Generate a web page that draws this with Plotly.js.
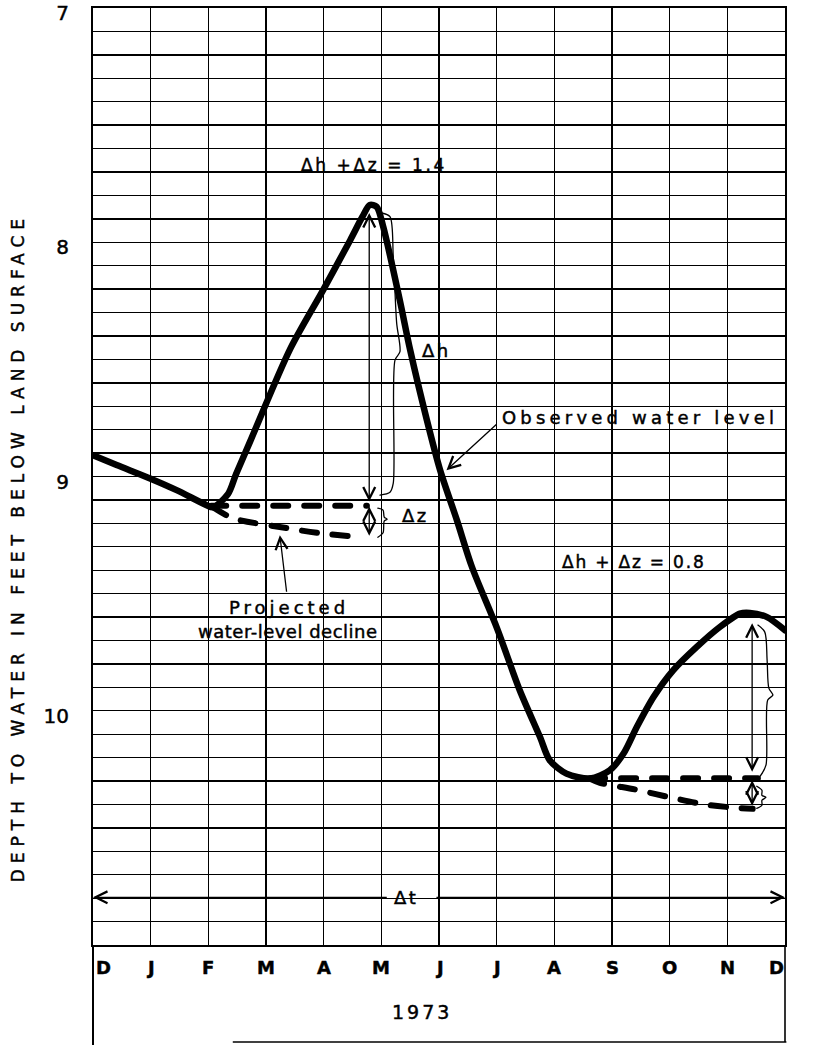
<!DOCTYPE html>
<html>
<head>
<meta charset="utf-8">
<script src="https://cdn.plot.ly/plotly-3.0.1.min.js"></script>
<style>
  html, body { margin: 0; padding: 0; background: #fff; }
  #chart { width: 827px; height: 1045px; }
  .scatterlayer .js-line { stroke-linecap: round; stroke-linejoin: round; }
  .annotation-text, .ytick text { stroke: #000; stroke-width: 0.45px; }
</style>
</head>
<body>
<div id="chart"></div>
<script>
// ---- data (months since 1 Dec 1972, depth to water in feet) ----
const monthLabels = ['D', 'J', 'F', 'M', 'A', 'M', 'J', 'J', 'A', 'S', 'O', 'N', 'D'];
const monthIndex = [0, 1, 2, 3, 4, 5, 6, 7, 8, 9, 10, 11, 12];
const yearLabel = '1973';
const depthTickVals = [7, 8, 9, 10];
const depthTickText = ['7', '8', '9', '10'];

const observedMonth = [0, 0.41, 0.99, 1.45, 1.97, 2.08, 2.34, 2.48, 2.72, 3.42, 3.99, 4.46, 4.67, 4.80, 4.92, 5.03, 5.32, 5.50, 5.79, 6.02, 6.31, 6.57, 7.01, 7.40, 7.75, 7.92, 8.21, 8.62, 8.96, 9.20, 9.43, 9.72, 10.06, 10.47, 10.87, 11.22, 11.39, 11.68, 12.0];
const observedDepth = [8.909, 8.951, 9.008, 9.058, 9.122, 9.131, 9.075, 8.990, 8.853, 8.455, 8.204, 7.991, 7.892, 7.841, 7.849, 7.931, 8.247, 8.460, 8.759, 8.973, 9.186, 9.385, 9.650, 9.912, 10.111, 10.211, 10.268, 10.289, 10.254, 10.182, 10.069, 9.941, 9.827, 9.727, 9.642, 9.585, 9.582, 9.599, 9.656];

const projSpringFlatMonth = [2.05, 4.75];
const projSpringFlatDepth = [9.125, 9.125];
const projSpringDeclineMonth = [2.08, 2.43, 3.36, 3.94, 4.66];
const projSpringDeclineDepth = [9.131, 9.178, 9.220, 9.242, 9.259];
const projFallFlatMonth = [8.62, 11.53];
const projFallFlatDepth = [10.288, 10.288];
const projFallDeclineMonth = [8.62, 8.79, 9.43, 10.02, 10.61, 11.22, 11.44];
const projFallDeclineDepth = [10.290, 10.307, 10.337, 10.370, 10.400, 10.415, 10.418];

// measurement arrows (month, depth top, depth bottom)
const dh1 = {month: 4.79, top: 7.875, bottom: 9.113};
const dz1 = {month: 4.79, top: 9.128, bottom: 9.259};
const dh2 = {month: 11.43, top: 9.626, bottom: 10.266};
const dz2 = {month: 11.43, top: 10.296, bottom: 10.411};
const dtDepth = 10.796;

// braces
const brace1Month = [5.006, 5.150, 5.207, 5.266, 5.323, 5.237, 5.207, 5.150, 4.977];
const brace1Depth = [7.875, 7.891, 8.062, 8.345, 8.467, 8.503, 9.028, 9.067, 9.079];
const brace2Month = [4.94, 5.03, 5.05, 5.10, 5.05, 5.03, 4.94];
const brace2Depth = [9.135, 9.143, 9.173, 9.182, 9.190, 9.240, 9.259];
const brace3Month = [11.53, 11.65, 11.69, 11.72, 11.79, 11.70, 11.67, 11.57];
const brace3Depth = [9.634, 9.664, 9.784, 9.903, 9.933, 9.954, 10.232, 10.279];
const brace4Month = [11.51, 11.60, 11.60, 11.67, 11.60, 11.60, 11.51];
const brace4Depth = [10.322, 10.339, 10.361, 10.369, 10.382, 10.403, 10.416];

// ---- traces ----
const FONT = 'DejaVu Sans, Verdana, sans-serif';
const traces = [];
function addLine(xs, ys, width, dash, shape) {
  traces.push({
    type: 'scatter', mode: 'lines', x: xs, y: ys,
    line: {color: '#000', width: width, dash: dash || 'solid', shape: shape || 'linear', smoothing: 0.8},
    hoverinfo: 'skip', showlegend: false
  });
}
const DASH = '15px,16px';
addLine(projSpringFlatMonth, projSpringFlatDepth, 6, DASH);
addLine(projSpringDeclineMonth, projSpringDeclineDepth, 6, DASH, 'spline');
addLine(projFallFlatMonth, projFallFlatDepth, 6, DASH);
addLine(projFallDeclineMonth, projFallDeclineDepth, 6, DASH, 'spline');
addLine(observedMonth, observedDepth, 6.5, 'solid', 'spline');
addLine(brace1Month, brace1Depth, 1.3, 'solid', 'spline');
addLine(brace2Month, brace2Depth, 1.3, 'solid', 'spline');
addLine(brace3Month, brace3Depth, 1.3, 'solid', 'spline');
addLine(brace4Month, brace4Depth, 1.3, 'solid', 'spline');

// ---- annotations ----
const annotations = [];
function label(text, x, y, size, spacing, extra) {
  const a = Object.assign({
    text: '<span style="letter-spacing:' + spacing + 'px">' + text + '</span>',
    x: x, y: y, xref: 'x', yref: 'y', showarrow: false,
    font: {family: FONT, size: size, color: '#000'},
    xanchor: 'center', yanchor: 'middle'
  }, extra || {});
  annotations.push(a);
}
function arrow(x, y, ax, ay, side) {
  annotations.push({
    text: '', x: x, y: y, ax: ax, ay: ay, xref: 'x', yref: 'y', axref: 'x', ayref: 'y',
    showarrow: true, arrowhead: 5, startarrowhead: 5, arrowside: side || 'end',
    arrowsize: 1.8, startarrowsize: 1.8, arrowwidth: 1.3, arrowcolor: '#000', standoff: 0, startstandoff: 0
  });
}

// month labels and year
monthLabels.forEach(function (m, i) {
  let shift = 0;
  if (i === 0) shift = 10;
  if (i === monthLabels.length - 1) shift = -9;
  annotations.push({
    text: m, x: monthIndex[i], y: -0.0245, xref: 'x', yref: 'paper', showarrow: false,
    xshift: shift, font: {family: FONT, size: 18, color: '#000', weight: 'bold'},
    xanchor: 'center', yanchor: 'middle'
  });
});
annotations.push({
  text: '<span style="letter-spacing:3px">' + yearLabel + '</span>', x: 0.476, y: -0.0715,
  xref: 'paper', yref: 'paper', showarrow: false,
  font: {family: FONT, size: 19, color: '#000'}, xanchor: 'center', yanchor: 'middle'
});
// y-axis title
annotations.push({
  text: '<span style="letter-spacing:6px">DEPTH TO WATER IN FEET BELOW LAND SURFACE</span>',
  x: -0.108, y: 0.4237, xref: 'paper', yref: 'paper', showarrow: false, textangle: -90,
  font: {family: FONT, size: 17, color: '#000'}, xanchor: 'center', yanchor: 'middle'
});

// chart notes
label('Δh +Δz = 1.4', 4.87, 7.670, 17, 2.6);
label('Δh', 5.95, 8.460, 18, 2.5);
label('Δz', 5.60, 9.165, 18, 2.5);
label('Observed water level', 7.06, 8.746, 18, 4.2, {xanchor: 'left'});
label('Δh + Δz = 0.8', 9.38, 9.366, 17, 1.8);
label('Δh', 12.36, 9.933, 18, 2.5);
label('Δz', 12.33, 10.352, 18, 2.5);
label('Projected', 3.40, 9.558, 18, 4.0);
label('water-level decline', 3.38, 9.660, 18, 0.5);
label('Δt', 5.43, dtDepth, 18, 2.5);

// arrows
arrow(dh1.month, dh1.top, dh1.month, dh1.bottom, 'end+start');
arrow(dz1.month, dz1.top, dz1.month, dz1.bottom, 'end+start');
arrow(dh2.month, dh2.top, dh2.month, dh2.bottom, 'end+start');
arrow(dz2.month, dz2.top, dz2.month, dz2.bottom, 'end+start');
arrow(0, dtDepth, 5.12, dtDepth, 'end');
arrow(12, dtDepth, 5.93, dtDepth, 'end');
arrow(6.13, 8.973, 7.02, 8.772, 'end');
arrow(3.24, 9.250, 3.36, 9.498, 'end');

// ---- frame below the plot (month / year box) ----
const shapes = [
  {type: 'line', xref: 'paper', yref: 'paper', x0: 0, x1: 0, y0: 0, y1: -0.1075, line: {color: '#000', width: 2}},
  {type: 'line', xref: 'paper', yref: 'paper', x0: 1, x1: 1, y0: 0, y1: -0.1035, line: {color: '#000', width: 1.6}},
  {type: 'line', xref: 'paper', yref: 'paper', x0: 0.202, x1: 1.002, y0: -0.1035, y1: -0.1035, line: {color: '#000', width: 1.4}}
];

const layout = {
  width: 827, height: 1045,
  margin: {l: 93, r: 42, t: 8, b: 100},
  paper_bgcolor: '#fff', plot_bgcolor: '#fff',
  showlegend: false, hovermode: false,
  font: {family: FONT, color: '#000'},
  xaxis: {
    range: [0, 12], tick0: 0, dtick: 1, showticklabels: false, ticks: '',
    showgrid: true, gridcolor: '#000', gridwidth: 1.3, zeroline: false,
    showline: true, linecolor: '#000', linewidth: 2, mirror: true, fixedrange: true
  },
  yaxis: {
    range: [10.9995, 7], tickmode: 'array', tickvals: depthTickVals, ticktext: depthTickText,
    ticks: '', ticklabelstandoff: 18, ticklabeloverflow: 'allow', ticklabelshift: -5,
    tickfont: {family: FONT, size: 20, color: '#000'},
    showgrid: true, gridcolor: '#000', gridwidth: 1.3, zeroline: false,
    minor: {tick0: 7, dtick: 0.1, showgrid: true, gridcolor: '#000', gridwidth: 1.3, ticks: ''},
    showline: true, linecolor: '#000', linewidth: 2, mirror: true, fixedrange: true
  },
  annotations: annotations,
  shapes: shapes
};

Plotly.newPlot('chart', traces, layout, {staticPlot: true, displayModeBar: false});
</script>
</body>
</html>
